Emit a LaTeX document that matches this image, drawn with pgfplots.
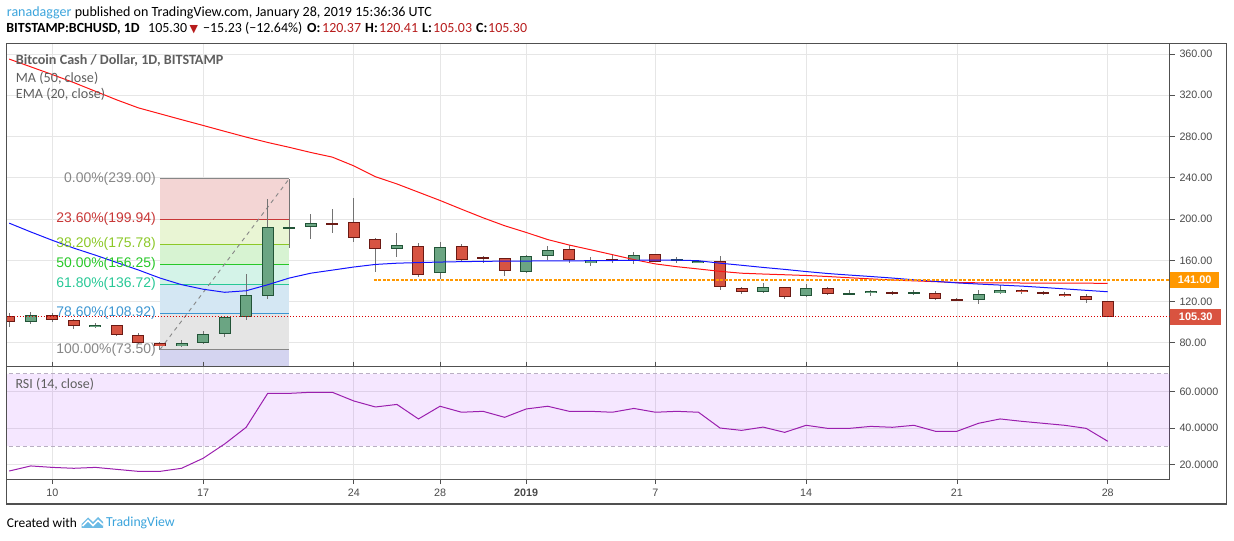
\documentclass[border=0pt]{standalone}
\usepackage{pgfplots}
\pgfplotsset{compat=1.18}
\usepackage{pgfplotstable}
\usepackage{fontspec}
\setmainfont{Carlito}
\newfontfamily\arialf{Liberation Sans}
\newfontfamily\dejavu{DejaVu Sans}

\definecolor{framegray}{RGB}{80,80,80}
\definecolor{gridgray}{RGB}{230,230,230}
\definecolor{labgray}{RGB}{74,74,74}
\definecolor{txtgray}{RGB}{95,95,95}
\definecolor{upfill}{RGB}{107,165,131}
\definecolor{upline}{RGB}{34,84,55}
\definecolor{dnfill}{RGB}{215,84,66}
\definecolor{dnline}{RGB}{107,26,20}
\definecolor{wick}{RGB}{115,115,115}
\definecolor{maRed}{RGB}{255,20,20}
\definecolor{emaBlue}{RGB}{20,20,255}
\definecolor{orange141}{RGB}{255,152,0}
\definecolor{redlab}{RGB}{217,83,64}
\definecolor{dred}{RGB}{183,28,28}
\definecolor{tvblue}{RGB}{59,164,220}
\definecolor{rsiline}{RGB}{155,31,174}
\definecolor{rsiband}{RGB}{153,21,255}
\definecolor{banddash}{RGB}{185,175,195}
\definecolor{fibz0}{RGB}{243,213,212}
\definecolor{fibz1}{RGB}{233,245,212}
\definecolor{fibz2}{RGB}{215,243,210}
\definecolor{fibz3}{RGB}{212,243,232}
\definecolor{fibz4}{RGB}{212,231,243}
\definecolor{fibz5}{RGB}{229,229,229}
\definecolor{fibz6}{RGB}{212,212,240}
\definecolor{fibl0}{RGB}{135,135,135}
\definecolor{fibl1}{RGB}{200,55,55}
\definecolor{fibl2}{RGB}{140,200,40}
\definecolor{fibl3}{RGB}{40,200,40}
\definecolor{fibl4}{RGB}{40,200,150}
\definecolor{fibl5}{RGB}{60,150,210}

% d = days since 10 Dec 2018; o h l c
\pgfplotstableread{
d o h l c
-1 99.8 109.5 98.2 106.6
2 95.0 99.1 94.8 97.2
6 76.5 82.3 75.8 79.7
7 79.4 91.1 79.0 88.2
8 88.2 105.5 85.8 104.9
9 104.7 146.7 102.3 126.0
10 125.7 219.5 122.1 192.0
11 191.0 239.0 171.7 192.0
12 192.0 205.0 181.0 195.8
16 170.7 186.5 162.9 174.6
18 147.4 177.8 142.1 172.6
22 148.3 165.1 148.0 163.9
23 163.9 173.9 160.6 169.7
25 157.4 162.9 154.2 160.0
27 159.3 168.1 156.1 164.9
29 159.7 162.9 157.7 160.3
30 157.6 160.5 157.0 159.8
33 128.9 138.3 128.5 133.8
35 125.0 137.0 124.0 132.8
37 127.0 131.2 127.0 127.6
38 127.9 131.2 125.0 129.9
40 127.0 131.2 126.0 128.9
43 121.2 131.2 117.3 127.0
44 127.9 136.0 127.5 130.9
}\upcandles

\pgfplotstableread{
d o h l c
-2 105.9 108.5 95.5 99.8
0 106.6 108.8 99.8 102.0
1 101.7 102.7 93.0 95.9
3 96.9 97.2 87.0 87.2
4 87.2 89.1 79.2 79.4
5 79.4 80.7 73.5 76.5
13 195.3 209.5 186.2 194.5
14 196.9 220.2 177.5 181.4
15 181.0 181.5 148.9 170.7
17 173.6 176.5 144.1 146.0
19 173.6 175.8 159.5 160.0
20 162.3 164.2 157.1 161.5
21 161.9 162.5 145.0 149.3
24 170.7 175.2 157.1 160.0
26 160.4 165.1 157.1 159.7
28 165.8 166.5 158.5 158.8
31 159.0 164.5 130.9 133.8
32 132.8 133.8 127.6 129.6
34 133.8 134.5 122.1 124.1
36 132.8 133.9 126.0 127.0
39 128.9 129.9 126.0 127.0
41 127.9 129.9 121.2 122.1
42 121.7 123.1 120.7 121.1
45 130.9 132.0 127.0 128.9
46 128.9 129.9 126.0 127.0
47 127.0 128.9 124.0 125.0
48 125.0 127.0 118.3 121.2
49 120.37 120.41 105.03 105.30
}\downcandles

\pgfplotstableread{
d v
-2 355
-1 347.5
0 340
1 332.2
2 323.8
3 315.4
4 307.7
5 302.0
6 296.3
7 290.7
8 285.0
9 279.4
10 274.2
11 269.5
12 264.5
13 260.0
14 251.5
15 241.0
16 234.0
17 226.0
18 218.0
19 209.5
20 201.2
21 193.5
22 187.0
23 180.1
24 174.8
25 170.2
26 165.5
27 160.7
28 156.5
29 153.8
30 151.6
31 149.3
32 147.5
33 146.7
34 146.0
35 145.3
36 144.3
37 143.1
38 142.0
39 140.9
40 140.1
41 139.3
42 138.5
43 138.2
44 138.1
45 138.0
46 137.9
47 137.8
48 137.8
49 137.7
}\madata

\pgfplotstableread{
d v
-2 196
-1 187.5
0 179.4
1 171.8
2 165.0
3 157.8
4 150.6
5 142.8
6 136.4
7 132.0
8 129.0
9 130.5
10 136.3
11 142.8
12 147.5
13 150.5
14 153.5
15 156.0
16 157.2
17 157.8
18 158.3
19 158.7
20 159.0
21 159.2
22 159.3
23 159.4
24 159.5
25 159.6
26 159.8
27 160.0
28 160.2
29 160.2
30 159.6
31 157.2
32 155.2
33 153.1
34 151.2
35 149.1
36 147.2
37 145.7
38 144.3
39 142.8
40 141.1
41 139.6
42 138.1
43 137.0
44 136.0
45 135.0
46 133.7
47 132.3
48 130.9
49 129.5
}\emadata

\pgfplotstableread{
d v
-2 16.3
-1 19.1
0 18.3
1 17.8
2 18.3
3 17.2
4 16.1
5 16.1
6 17.8
7 23.3
8 31.2
9 40.4
10 59.1
11 59.1
12 59.7
13 59.7
14 54.9
15 51.6
16 53.0
17 45.0
18 52.0
19 48.7
20 49.2
21 45.9
22 50.5
23 52.0
24 49.2
25 49.2
26 48.7
27 50.8
28 48.7
29 49.2
30 48.7
31 40.0
32 38.7
33 40.5
34 37.6
35 41.5
36 39.8
37 39.8
38 40.9
39 40.4
40 41.5
41 38.2
42 38.2
43 42.6
44 45.0
45 43.7
46 42.6
47 41.5
48 39.8
49 32.7
}\rsidata

\pgfplotsset{
  tvbase/.style={
    scale only axis, width=1163.3bp,
    xmin=-2.117, xmax=51.89,
    axis line style={draw=framegray, line width=1bp},
    xtick={0,7,14,18,22,28,35,42,49},
    xmajorgrids, ymajorgrids,
    grid style={draw=gridgray, line width=0.8bp},
    ytick pos=right, yticklabel pos=right,
    tick align=outside,
    major tick length=5bp,
    ytick style={draw=framegray, line width=0.8bp},
    yticklabel style={font=\arialf\fontsize{10.8}{12}\selectfont, text=labgray, xshift=1bp},
    /pgf/number format/assume math mode=true,
    /pgf/number format/1000 sep={},
    clip mode=individual,
  },
  wickstyle/.style={draw=none, mark=none,
    error bars/.cd, y dir=both, y explicit, error mark=none,
    error bar style={draw=wick, line width=1bp}},
  bodyout/.style={draw=none, mark=none,
    error bars/.cd, y dir=both, y explicit, error mark=none,
    error bar style={draw=#1, line width=12bp, line cap=butt}},
  bodyin/.style={draw=none, mark=none,
    error bars/.cd, y dir=both, y explicit, error mark=none,
    error bar style={draw=#1, line width=10bp, line cap=butt}},
}

\begin{document}
\begin{tikzpicture}
\path[use as bounding box] (0bp,0bp) rectangle (1234bp,541bp);

% ---------------- main price panel ----------------
\begin{axis}[tvbase,
  at={(6.7bp,174.3bp)}, anchor=south west,
  height=323.4bp,
  ymin=56.9, ymax=370.3,
  xticklabels={},
  xtick style={draw=none},
  ytick={80,120,160,200,240,280,320,360},
  yticklabel style={/pgf/number format/.cd, fixed, fixed zerofill, precision=2},
]
% Fibonacci zones
\addplot[draw=none, fill=fibz0] coordinates {(5,199.94) (11,199.94) (11,239) (5,239)};
\addplot[draw=none, fill=fibz1] coordinates {(5,175.78) (11,175.78) (11,199.94) (5,199.94)};
\addplot[draw=none, fill=fibz2] coordinates {(5,156.25) (11,156.25) (11,175.78) (5,175.78)};
\addplot[draw=none, fill=fibz3] coordinates {(5,136.72) (11,136.72) (11,156.25) (5,156.25)};
\addplot[draw=none, fill=fibz4] coordinates {(5,108.92) (11,108.92) (11,136.72) (5,136.72)};
\addplot[draw=none, fill=fibz5] coordinates {(5,73.5) (11,73.5) (11,108.92) (5,108.92)};
\addplot[draw=none, fill=fibz6] coordinates {(5,50) (11,50) (11,73.5) (5,73.5)};
\addplot[fibl0, line width=1bp] coordinates {(5,239) (11,239)};
\addplot[fibl1, line width=1bp] coordinates {(5,199.94) (11,199.94)};
\addplot[fibl2, line width=1bp] coordinates {(5,175.78) (11,175.78)};
\addplot[fibl3, line width=1bp] coordinates {(5,156.25) (11,156.25)};
\addplot[fibl4, line width=1bp] coordinates {(5,136.72) (11,136.72)};
\addplot[fibl5, line width=1bp] coordinates {(5,108.92) (11,108.92)};
\addplot[fibl0, line width=1bp] coordinates {(5,73.5) (11,73.5)};
\addplot[fibl0, line width=0.9bp, dash pattern=on 4bp off 4bp] coordinates {(5,73.5) (11,239)};

% wicks
\addplot[wickstyle] table[x=d, y expr={(\thisrow{h}+\thisrow{l})/2}, y error expr={(\thisrow{h}-\thisrow{l})/2}] {\upcandles};
\addplot[wickstyle] table[x=d, y expr={(\thisrow{h}+\thisrow{l})/2}, y error expr={(\thisrow{h}-\thisrow{l})/2}] {\downcandles};
% bodies
\addplot[bodyout=upline] table[x=d, y expr={(\thisrow{o}+\thisrow{c})/2}, y error expr={max(abs(\thisrow{c}-\thisrow{o})/2,0.97)}] {\upcandles};
\addplot[bodyin=upfill] table[x=d, y expr={(\thisrow{o}+\thisrow{c})/2}, y error expr={max(abs(\thisrow{c}-\thisrow{o})/2-0.97,0)}] {\upcandles};
\addplot[bodyout=dnline] table[x=d, y expr={(\thisrow{o}+\thisrow{c})/2}, y error expr={max(abs(\thisrow{c}-\thisrow{o})/2,0.97)}] {\downcandles};
\addplot[bodyin=dnfill] table[x=d, y expr={(\thisrow{o}+\thisrow{c})/2}, y error expr={max(abs(\thisrow{c}-\thisrow{o})/2-0.97,0)}] {\downcandles};

% moving averages
\addplot[maRed, line width=1bp] table[x=d, y=v] {\madata};
\addplot[emaBlue, line width=1bp] table[x=d, y=v] {\emadata};

% horizontal lines
\addplot[orange141, line width=1.8bp, dash pattern=on 3bp off 1.5bp] coordinates {(14.93,141) (51.89,141)};
\addplot[red!85!black, line width=0.9bp, dash pattern=on 1.5bp off 1.5bp] coordinates {(-2.2,105.3) (51.89,105.3)};

% fib labels
\begin{scope}[every node/.style={anchor=east, inner sep=0pt, font=\arialf\fontsize{14}{16}\selectfont}]
\node[text=fibl0] at (axis cs:4.81,239) {0.00\%(239.00)};
\node[text=fibl1] at (axis cs:4.81,199.94) {23.60\%(199.94)};
\node[text=fibl2] at (axis cs:4.81,175.78) {38.20\%(175.78)};
\node[text=fibl3] at (axis cs:4.81,156.25) {50.00\%(156.25)};
\node[text=fibl4] at (axis cs:4.81,136.72) {61.80\%(136.72)};
\node[text=fibl5] at (axis cs:4.81,108.92) {78.60\%(108.92)};
\node[text=fibl0] at (axis cs:4.81,73.5) {100.00\%(73.50)};
\end{scope}

% price labels on right axis
\node[anchor=west, fill=orange141, text=white, inner sep=0pt, minimum width=49bp, minimum height=16.5bp, font=\arialf\bfseries\fontsize{11}{12}\selectfont] at (axis cs:51.89,141) {141.00};
\node[anchor=west, fill=redlab, text=white, inner sep=0pt, minimum width=51bp, minimum height=16.5bp, font=\arialf\bfseries\fontsize{11}{12}\selectfont] at (axis cs:51.89,105.3) {105.30};
\end{axis}

% ---------------- RSI panel ----------------
\begin{axis}[tvbase,
  at={(6.7bp,62bp)}, anchor=south west,
  height=112.3bp,
  ymin=11.9, ymax=73.8,
  xticklabels={10,17,24,28,\textbf{2019},7,14,21,28},
  xtick style={draw=framegray, line width=0.8bp},
  xticklabel style={font=\arialf\fontsize{10.8}{12}\selectfont, text=labgray, anchor=center, yshift=-9bp},
  ytick={20,40,60},
  yticklabel style={/pgf/number format/.cd, fixed, fixed zerofill, precision=4},
]
\addplot[draw=none, fill=rsiband, fill opacity=0.1] coordinates {(-3,30) (53,30) (53,70) (-3,70)};
\addplot[banddash, line width=0.9bp, dash pattern=on 4bp off 3bp] coordinates {(-3,70) (53,70)};
\addplot[banddash, line width=0.9bp, dash pattern=on 4bp off 3bp] coordinates {(-3,30) (53,30)};
\addplot[rsiline, line width=1bp] table[x=d, y=v] {\rsidata};
\end{axis}

% outer frame
\draw[framegray, line width=1.2bp] (6.7bp,37bp) rectangle (1226.7bp,497.7bp);

% panel titles
\node[anchor=west, inner sep=0pt, text=txtgray, font=\bfseries\fontsize{14.2}{15}\selectfont] at (15.7bp,480.3bp) {Bitcoin Cash / Dollar, 1D, BITSTAMP};
\node[anchor=west, inner sep=0pt, text=txtgray, font=\fontsize{14.2}{15}\selectfont] at (15.7bp,462.7bp) {MA (50, close)};
\node[anchor=west, inner sep=0pt, text=txtgray, font=\fontsize{14.2}{15}\selectfont] at (15.7bp,446.7bp) {EMA (20, close)};
\node[anchor=west, inner sep=0pt, text=txtgray, font=\fontsize{14}{15}\selectfont] at (15.4bp,157bp) {RSI (14, close)};

% header
\node[anchor=west, inner sep=0pt, font=\fontsize{14.1}{15}\selectfont] at (6.7bp,528.3bp) {\textcolor{tvblue}{ranadagger} published on TradingView.com, January 28, 2019 15:36:36 UTC};
\begin{scope}[every node/.style={anchor=base west, inner sep=0pt, font=\fontsize{14}{15}\selectfont}]
\node at (6.2bp,508bp) {\textbf{BITSTAMP:BCHUSD, 1D}};
\node at (148bp,508bp) {105.30};
\node[text=dred, font=\dejavu\fontsize{11}{12}\selectfont] at (189.5bp,508bp) {▼};
\node at (203bp,508bp) {−15.23 (−12.64\%)};
\node at (307bp,508bp) {\textbf{O:}};
\node[text=dred] at (322bp,508bp) {120.37};
\node at (365bp,508bp) {\textbf{H:}};
\node[text=dred] at (379bp,508bp) {120.41};
\node at (422bp,508bp) {\textbf{L:}};
\node[text=dred] at (433bp,508bp) {105.03};
\node at (476bp,508bp) {\textbf{C:}};
\node[text=dred] at (488bp,508bp) {105.30};
\end{scope}

% footer
\node[anchor=west, inner sep=0pt, font=\fontsize{13.5}{15}\selectfont] at (6.7bp,17.7bp) {Created with};
\fill[tvblue!75] (81.7bp,13bp) -- (81.7bp,17bp) -- (88bp,23.5bp) -- (93bp,19bp) -- (98bp,24bp) -- (103bp,19bp) -- (103bp,13bp) -- cycle;
\draw[white, line width=1.6bp] (82.5bp,15bp) -- (88bp,20.5bp) -- (93bp,15.5bp) -- (98bp,20.5bp) -- (103bp,16bp);
\node[anchor=west, inner sep=0pt, text=tvblue, font=\fontsize{13.8}{15}\selectfont] at (106bp,17.7bp) {TradingView};
\end{tikzpicture}
\end{document}
